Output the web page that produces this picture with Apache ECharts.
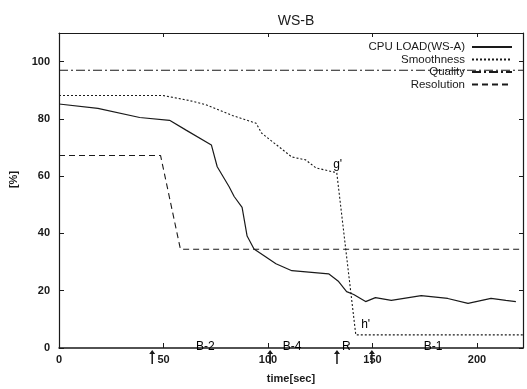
<!DOCTYPE html>
<html>
<head>
<meta charset="utf-8">
<script src="https://cdn.jsdelivr.net/npm/echarts@6/dist/echarts.min.js"></script>
<style>
  html, body { margin: 0; padding: 0; background: #fff; }
  #chart { width: 527px; height: 389px; }
</style>
</head>
<body>
<div id="chart"></div>
<script>
// values: [time(sec), %]
const cpuLoad = [
  [0, 85.2], [18.6, 83.7], [38.6, 80.5], [52.9, 79.5], [61, 76], [72.9, 70.9],
  [75.7, 63.3], [81.4, 56.3], [83.8, 52.9], [87.6, 49.1], [90, 39.1], [93.3, 34.6],
  [99, 31.8], [103.8, 29.4], [111.4, 27], [129, 25.9], [133.8, 23.2], [137.6, 19.7],
  [141, 18.7], [146.7, 16.2], [151.4, 17.6], [159, 16.6], [173.3, 18.3], [186, 17.3],
  [195.7, 15.6], [206.7, 17.3], [213.8, 16.6], [218.6, 16.2]
];
const smoothness = [
  [0, 88.2], [49.5, 88.2], [62.4, 86.4], [70, 85], [82.9, 81.2], [94.3, 78.5],
  [97, 75], [111.4, 66.7], [118, 65.7], [122.9, 62.9], [132.9, 61.2], [142, 4.6],
  [222, 4.6]
];
const quality = [[0, 97], [222, 97]];
const resolution = [[0, 67.2], [48.6, 67.2], [58.1, 34.5], [222, 34.5]];

const noteLabels = [
  { name: "g'", value: [133.3, 64] },
  { name: "h'", value: [146.7, 8] },
  { name: 'B-2', value: [70, 0.5] },
  { name: 'B-4', value: [111.5, 0.5] },
  { name: 'R', value: [137.5, 0.5] },
  { name: 'B-1', value: [179, 0.5] }
];
const arrowTimes = [44.6, 101, 133, 149.7];

const ink = '#1a1a1a';
const chart = echarts.init(document.getElementById('chart'));

const option = {
  animation: false,
  title: {
    text: 'WS-B', left: 291, top: 9, textAlign: 'center',
    textStyle: { fontFamily: 'Liberation Sans', fontSize: 14, fontWeight: 'normal', color: ink }
  },
  legend: {
    orient: 'vertical', right: 9, top: 36, align: 'right',
    itemWidth: 40, itemHeight: 10, itemGap: 0.5,
    data: ['CPU LOAD(WS-A)', 'Smoothness', 'Quality', 'Resolution'],
    itemStyle: { color: 'transparent', borderColor: 'transparent', borderWidth: 0 },
    textStyle: { fontFamily: 'Liberation Sans', fontSize: 11.5, lineHeight: 12, color: ink, padding: [0, 2, 0, 0] }
  },
  grid: { left: 59, top: 33, right: 4, bottom: 39 },
  xAxis: [
    {
      type: 'value', min: 0, max: 222, interval: 50,
      name: 'time[sec]', nameLocation: 'middle', nameGap: 25,
      nameTextStyle: { fontFamily: 'Liberation Sans', fontSize: 11, fontWeight: 'bold', color: ink },
      axisLine: { onZero: false, lineStyle: { color: ink, width: 1.5 } },
      axisTick: { inside: true, length: 5, lineStyle: { color: ink } },
      axisLabel: { showMaxLabel: false, margin: 6, fontFamily: 'Liberation Sans', fontSize: 11, fontWeight: 'bold', color: ink },
      splitLine: { show: false }
    },
    {
      type: 'value', position: 'top', min: 0, max: 222, interval: 50,
      axisLine: { show: true, onZero: false, lineStyle: { color: ink, width: 1.2 } },
      axisTick: { show: true, inside: true, length: 4, lineStyle: { color: ink } },
      axisLabel: { show: false }, splitLine: { show: false }
    }
  ],
  yAxis: [
    {
      type: 'value', min: 0, max: 110, interval: 20,
      name: '[%]', nameLocation: 'middle', nameGap: 40,
      nameTextStyle: { fontFamily: 'Liberation Sans', fontSize: 11, fontWeight: 'bold', color: ink, padding: [0, 0, 0, 22] },
      axisLine: { show: true, onZero: false, lineStyle: { color: ink, width: 1.2 } },
      axisTick: { show: true, inside: true, length: 5, lineStyle: { color: ink } },
      axisLabel: { showMaxLabel: false, margin: 9, fontFamily: 'Liberation Sans', fontSize: 11, fontWeight: 'bold', color: ink },
      splitLine: { show: false }
    },
    {
      type: 'value', position: 'right', min: 0, max: 110, interval: 20,
      axisLine: { show: true, onZero: false, lineStyle: { color: ink, width: 1.2 } },
      axisTick: { show: true, inside: true, length: 4, lineStyle: { color: ink } },
      axisLabel: { show: false }, splitLine: { show: false }
    }
  ],
  series: [
    {
      name: 'CPU LOAD(WS-A)', type: 'line', data: cpuLoad, symbol: 'none',
      lineStyle: { color: ink, width: 1.2 }, itemStyle: { color: ink }
    },
    {
      name: 'Smoothness', type: 'line', data: smoothness, symbol: 'none',
      lineStyle: { color: ink, width: 1.1, type: [2, 2] }, itemStyle: { color: ink }
    },
    {
      name: 'Quality', type: 'line', data: quality, symbol: 'none',
      lineStyle: { color: ink, width: 1.1, type: [9, 3, 2, 3] }, itemStyle: { color: ink }
    },
    {
      name: 'Resolution', type: 'line', data: resolution, symbol: 'none',
      lineStyle: { color: ink, width: 1.1, type: [6, 4] }, itemStyle: { color: ink }
    },
    {
      type: 'scatter', data: noteLabels, symbolSize: 1, silent: true,
      itemStyle: { color: 'transparent', opacity: 1 },
      label: {
        show: true, position: 'inside', formatter: '{b}', opacity: 1,
        fontFamily: 'Liberation Sans', fontSize: 12, color: '#000'
      }
    },
    {
      type: 'scatter', data: arrowTimes.map(t => [t, -3.1]), clip: false, silent: true,
      symbol: 'path://M5,0 L9,6 L6,6 L6,20 L4,20 L4,6 L1,6 Z', symbolSize: [6, 14],
      itemStyle: { color: ink, opacity: 1 }
    }
  ]
};
chart.setOption(option);
</script>
</body>
</html>
